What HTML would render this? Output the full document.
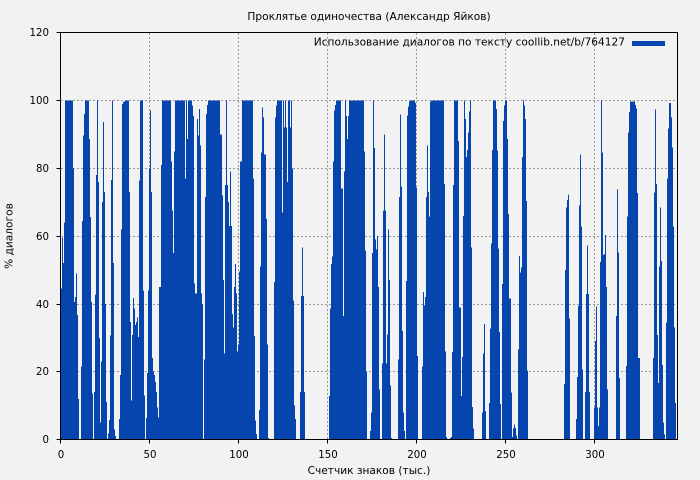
<!DOCTYPE html>
<html><head><meta charset="utf-8"><style>
html,body{margin:0;padding:0;background:#f2f2f2;}
svg{display:block;}
text{font-family:"DejaVu Sans","Liberation Sans",sans-serif;fill:#000;}
</style></head><body>
<svg width="700" height="480" viewBox="0 0 700 480" xmlns="http://www.w3.org/2000/svg">
<rect x="0" y="0" width="700" height="480" fill="#f2f2f2"/>
<text x="369" y="20" font-size="10.6" text-anchor="middle">Проклятье одиночества (Александр Яйков)</text>
<g stroke="#9a9a9a" stroke-width="1" stroke-dasharray="2,2" fill="none">
<line x1="61" y1="100.5" x2="677" y2="100.5"/>
<line x1="61" y1="168.5" x2="677" y2="168.5"/>
<line x1="61" y1="236.5" x2="677" y2="236.5"/>
<line x1="61" y1="304.5" x2="677" y2="304.5"/>
<line x1="61" y1="371.5" x2="677" y2="371.5"/>
<line x1="149.5" y1="33" x2="149.5" y2="439"/>
<line x1="238.5" y1="33" x2="238.5" y2="439"/>
<line x1="327.5" y1="33" x2="327.5" y2="439"/>
<line x1="416.5" y1="33" x2="416.5" y2="439"/>
<line x1="505.5" y1="33" x2="505.5" y2="439"/>
<line x1="594.5" y1="33" x2="594.5" y2="439"/>
</g>
<g transform="translate(0,439.5) scale(1,-3.39)">
<path fill="#0645ad" shape-rendering="crispEdges" d="M61,0V44.5H62V59.6H63V52H64V64H65V100H73V80H74V40.6H75V42H76V49H77V36.7H78V12H79V0H81V21.5H82V64.5H83V89.7H84V96H85V100H89V88.7H90V65.7H91V40.6H92V13.5H93V0H94V14H95V42.7H96V78H97V100H98V76H99V30H100V5H101V23H102V70H103V93.6H104V73H105V40H106V11H107V0H108V1.7H109V5.7H110V30.7H111V76.6H112V100H113V52H114V3H115V1H116V0H119V6H120V19H121V62H122V99H123V99.5H124V99.7H125V100H129V73H130V34.7H131V11.5H132V30.8H133V41.7H134V38.7H135V33.8H136V34.7H137V36H138V30.3H139V76.4H140V100H143V44H144V13H145V0H146V6.4H147V19.6H148V44H149V80H150V97H151V73H152V24H153V20H154V19H155V17H156V14H157V9.5H158V6.5H159V45H161V81H162V100H171V82H172V67.5H173V55H174V85H175V100H185V77H186V100H187V88.7H188V100H192V98.5H193V95.5H194V46H195V43H197V94.6H198V89.7H199V97.5H200V86.7H201V43H202V40H203V0H204V23.6H205V71.5H206V96H207V98.7H208V100H220V90H222V72H223V47H224V25.4H225V75H226V100H227V75H228V70H229V63H230V79H231V63H232V37H233V33H234V45H235V51.7H236V43H237V26H238V28H239V49.6H240V82H242V100H253V77H254V30.5H255V5.6H256V1.6H257V0H259V8.7H260V51H261V84.6H262V98H263V95H264V84H266V65H267V28H268V0.4H269V0H274V46.5H275V95H276V98.5H277V100H282V67H283V100H284V92H285V100H286V92H287V76H288V100H290V92H291V100H292V80H293V41H294V10H295V6H296V0H300V14H301V42.4H302V56.6H303V42.4H304V14H305V0H329V12.8H330V38.6H331V51.7H332V54H333V82H334V97H335V98.7H336V100H341V74H343V36.5H344V79H345V100H346V95.5H347V88.7H348V95.5H349V100H364V85H365V55.7H366V20H367V0H370V2.5H371V8H372V55H373V100H374V86H375V59H376V56H377V60H378V45H379V14.8H380V0H382V22.4H383V67.5H384V90H385V67.5H386V22.4H387V31H388V62H389V47H390V16H391V0.5H392V0H398V23.6H399V71.6H400V95.8H401V74.7H402V32H403V8H404V2.5H405V0H406V46.8H407V95.6H408V98.3H409V99.7H410V100H415V99.3H416V74.4H417V24.6H418V0H422V21.5H423V43.5H424V39.6H425V42H426V71.6H427V86.7H428V73H429V65.8H430V99.7H431V100H444V75.4H445V26H446V0.8H447V0H450V0.5H451V0.8H452V25.8H453V75H454V100H458V88H459V39H461V12.8H462V24.4H463V66H464V100H465V94.6H466V83.4H467V85.4H468V90.6H469V96.7H470V100H471V56.7H472V9.6H473V3.2H474V0H482V8H483V25.4H484V34H485V8.4H486V0H489V10.8H490V32.7H491V57.8H492V85.4H493V100H496V97.5H497V85.2H498V56.4H499V31.7H500V10.5H501V0H502V45.8H503V94H504V98.5H505V100H507V88.7H508V66.5H509V41.6H511V13.8H512V0.8H513V3.2H514V4.4H515V3.4H516V1.2H517V0H518V26.6H519V54.2H520V49.3H521V50.7H522V83.4H523V100H524V98.5H525V94.6H526V70.4H527V20.4H528V0H564V16.3H565V50H566V68.5H567V70.7H568V72.2H569V35.7H570V0H576V6H577V18.4H578V39.4H579V69H580V84H581V62.8H582V20.7H583V0H585V14H586V42.9H587V57.3H588V42.9H589V14H590V0H594V9.4H595V29H596V39.2H597V9.4H598V4H599V9.4H600V52.4H601V100H602V84.7H603V54.4H604V54.7H605V60.3H606V45H607V14.8H608V0H616V36.5H617V73.7H618V55.2H619V18.2H620V0H626V21.7H627V65.8H628V90.6H629V96.6H630V99.7H635V98.7H636V97.7H637V72.7H638V24H640V0H653V24.1H654V72.9H655V97.3H656V75.4H657V30.8H658V16.7H659V51H660V68.5H661V52.7H662V22H663V5H664V1.5H665V0H666V34.5H667V77H668V91.8H669V99.3H671V95H672V86.2H673V62.9H674V33H675V10.8H676V0Z"/>
</g>
<rect x="60.5" y="32.5" width="617" height="407" fill="none" stroke="#000" stroke-width="1"/>
<g stroke="#000" stroke-width="1">
<line x1="60.5" y1="439.5" x2="60.5" y2="443.5"/>
<line x1="149.5" y1="439.5" x2="149.5" y2="443.5"/>
<line x1="238.5" y1="439.5" x2="238.5" y2="443.5"/>
<line x1="327.5" y1="439.5" x2="327.5" y2="443.5"/>
<line x1="416.5" y1="439.5" x2="416.5" y2="443.5"/>
<line x1="505.5" y1="439.5" x2="505.5" y2="443.5"/>
<line x1="594.5" y1="439.5" x2="594.5" y2="443.5"/>
<line x1="56.5" y1="439.5" x2="60.5" y2="439.5"/>
<line x1="56.5" y1="371.5" x2="60.5" y2="371.5"/>
<line x1="56.5" y1="304.5" x2="60.5" y2="304.5"/>
<line x1="56.5" y1="236.5" x2="60.5" y2="236.5"/>
<line x1="56.5" y1="168.5" x2="60.5" y2="168.5"/>
<line x1="56.5" y1="100.5" x2="60.5" y2="100.5"/>
<line x1="56.5" y1="32.5" x2="60.5" y2="32.5"/>
</g>
<g font-size="10.2" text-anchor="middle">
<text x="61" y="458">0</text>
<text x="150" y="458">50</text>
<text x="239" y="458">100</text>
<text x="328" y="458">150</text>
<text x="417" y="458">200</text>
<text x="506" y="458">250</text>
<text x="595" y="458">300</text>
</g>
<g font-size="10.2" text-anchor="end">
<text x="49" y="443">0</text>
<text x="49" y="375">20</text>
<text x="49" y="308">40</text>
<text x="49" y="240">60</text>
<text x="49" y="172">80</text>
<text x="49" y="104">100</text>
<text x="49" y="36">120</text>
</g>
<text x="369" y="474" font-size="10.6" text-anchor="middle">Счетчик знаков (тыс.)</text>
<text transform="translate(12.5,236) rotate(-90)" font-size="10.6" text-anchor="middle">% диалогов</text>
<text x="625" y="45.5" font-size="10.6" text-anchor="end">Использование диалогов по тексту coollib.net/b/764127</text>
<rect x="632" y="41" width="33" height="5" fill="#0645ad"/>
</svg>
</body></html>
